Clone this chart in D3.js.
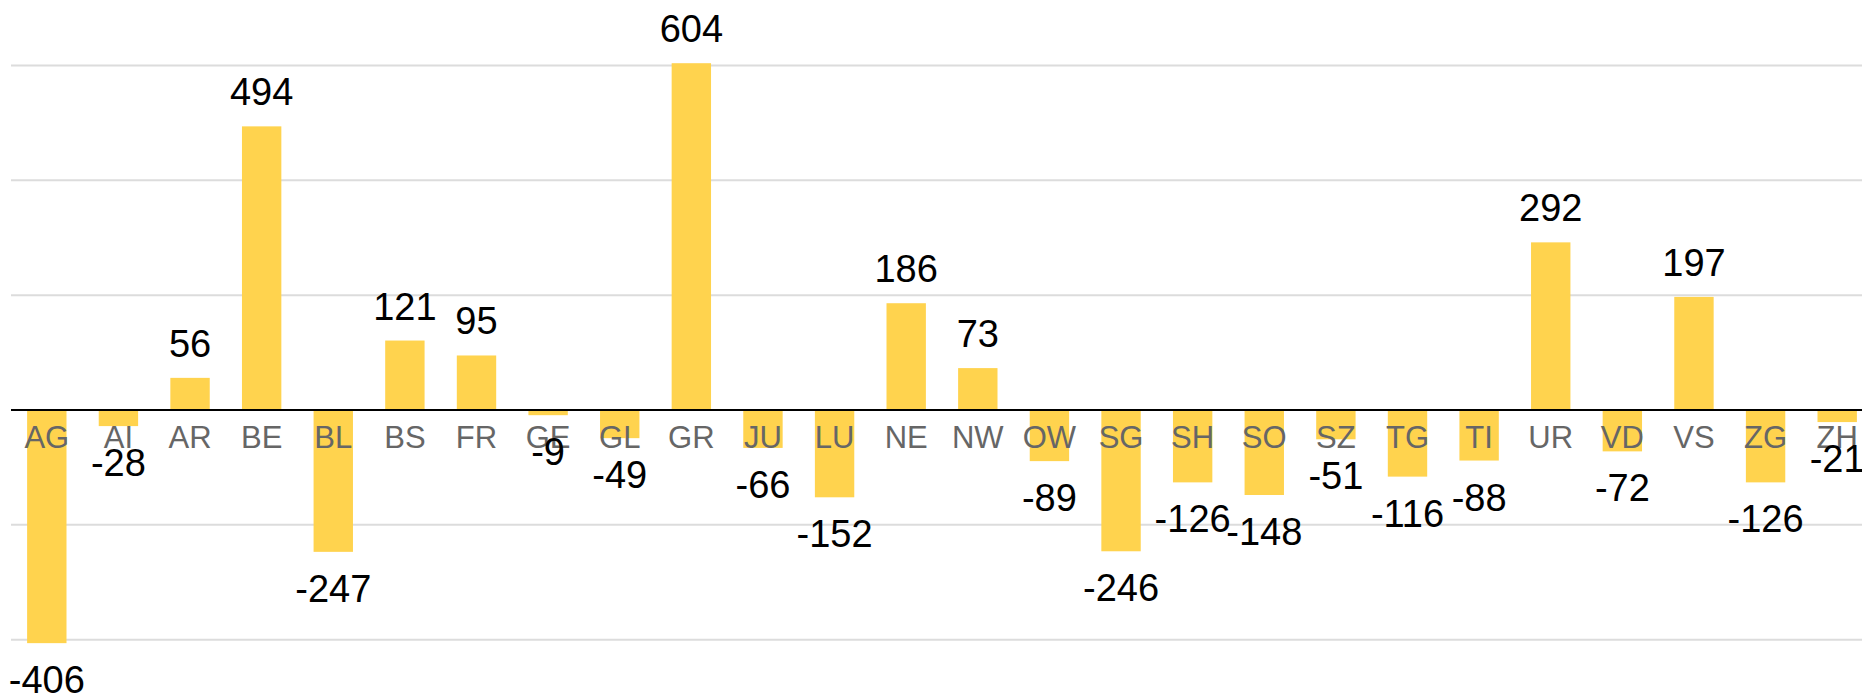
<!DOCTYPE html>
<html>
<head>
<meta charset="utf-8">
<script src="https://cdn.jsdelivr.net/npm/d3@7"></script>
<style>
  body { margin: 0; background: #fff; }
  svg { display: block; font-family: "Liberation Sans", Arial, sans-serif; }
</style>
</head>
<body>
<svg id="chart" width="1862" height="694"></svg>
<script>
var cantons = ["AG","AI","AR","BE","BL","BS","FR","GE","GL","GR","JU","LU","NE","NW","OW","SG","SH","SO","SZ","TG","TI","UR","VD","VS","ZG","ZH"];
var values = [-406,-28,56,494,-247,121,95,-9,-49,604,-66,-152,186,73,-89,-246,-126,-148,-51,-116,-88,292,-72,197,-126,-21];
var gridTicks = [-400,-200,0,200,400,600];

var width = 1862, height = 694;
var left = 11;

var svg = d3.select("#chart");

var x = d3.scaleBand().domain(cantons).range([left, 1873]).paddingInner(0.45).paddingOuter(0.225);
var y = d3.scaleLinear().domain([-400, 600]).range([639.7, 65.5]);

// grid lines
svg.append("g").attr("class", "grid")
  .selectAll("line").data(gridTicks.filter(function(d) { return d !== 0; }))
  .enter().append("line")
  .attr("x1", left).attr("x2", width)
  .attr("y1", function(d) { return y(d); }).attr("y2", function(d) { return y(d); })
  .attr("stroke", "#dcdcdc").attr("stroke-width", 2);

// bars
var data = cantons.map(function(c, i) { return {name: c, value: values[i]}; });
svg.append("g").attr("class", "bars")
  .selectAll("rect").data(data)
  .enter().append("rect")
  .attr("x", function(d) { return x(d.name); })
  .attr("width", x.bandwidth())
  .attr("y", function(d) { return d.value >= 0 ? y(d.value) : y(0); })
  .attr("height", function(d) { return Math.abs(y(d.value) - y(0)); })
  .attr("fill", "#ffd34e");

// zero line
svg.append("line")
  .attr("x1", left).attr("x2", width)
  .attr("y1", y(0)).attr("y2", y(0))
  .attr("stroke", "#000").attr("stroke-width", 2);

// category labels
svg.append("g").attr("class", "xlabels")
  .selectAll("text").data(data)
  .enter().append("text")
  .attr("x", function(d) { return x(d.name) + x.bandwidth() / 2; })
  .attr("y", 448)
  .attr("text-anchor", "middle")
  .attr("font-size", 31)
  .attr("fill", "#666")
  .text(function(d) { return d.name; });

// value labels
svg.append("g").attr("class", "vlabels")
  .selectAll("text").data(data)
  .enter().append("text")
  .attr("x", function(d) { return x(d.name) + x.bandwidth() / 2; })
  .attr("y", function(d) { return d.value >= 0 ? y(d.value) - 21 : y(d.value) + 50; })
  .attr("text-anchor", "middle")
  .attr("font-size", 38)
  .attr("fill", "#000")
  .text(function(d) { return d.value; });
</script>
</body>
</html>
